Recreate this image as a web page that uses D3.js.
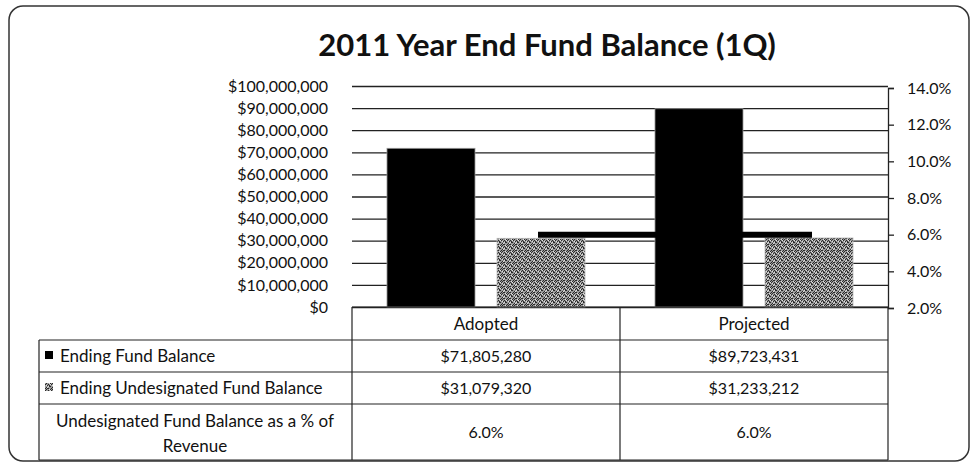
<!DOCTYPE html>
<html lang="en">
<head>
    <meta charset="UTF-8">
    <title>2011 Year End Fund Balance (1Q)</title>
    <script src="https://d3js.org/d3.v7.min.js"></script>
    <style>
        body { margin: 0; background: #fff; }
        text { font-family: Lato, "Open Sans", sans-serif; fill: #111; }
        .title { font-size: 31px; font-weight: bold; }
        .tick-label { font-size: 16px; }
        .cell { font-size: 17px; }
        .num { font-size: 16px; }
    </style>
</head>
<body>
    <svg id="chart" width="972" height="466"></svg>
    <script>
        // chart values
        const categories = ["Adopted", "Projected"];
        const seriesNames = ["Ending Fund Balance", "Ending Undesignated Fund Balance", "Undesignated Fund Balance as a % of Revenue"];
        const endingFundBalance = [71805280, 89723431];
        const undesignatedBalance = [31079320, 31233212];
        const pctOfRevenue = [6.0, 6.0];
        const leftTicks = [0, 10000000, 20000000, 30000000, 40000000, 50000000, 60000000, 70000000, 80000000, 90000000, 100000000];
        const rightTicks = [2, 4, 6, 8, 10, 12, 14];

        const svg = d3.select("#chart");

        // gray dither pattern for the undesignated bars
        const pat = svg.append("defs").append("pattern")
            .attr("id", "dots")
            .attr("width", 6).attr("height", 6)
            .attr("patternUnits", "userSpaceOnUse");
        pat.append("rect").attr("width", 6).attr("height", 6).attr("fill", "#9a9a9a");
        [[0, 0], [3, 0], [5, 1], [1, 2], [2, 2], [4, 3], [0, 4], [3, 4], [5, 4], [2, 5], [1, 1], [4, 5]].forEach(p => {
            pat.append("rect").attr("x", p[0]).attr("y", p[1])
                .attr("width", 1).attr("height", 1).attr("fill", "#2a2a2a");
        });
        [[2, 0], [4, 1], [0, 2], [5, 3], [1, 5]].forEach(p => {
            pat.append("rect").attr("x", p[0]).attr("y", p[1])
                .attr("width", 1).attr("height", 1).attr("fill", "#e0e0e0");
        });

        // outer frame
        svg.append("rect")
            .attr("x", 9).attr("y", 6)
            .attr("width", 960).attr("height", 455)
            .attr("rx", 14)
            .attr("fill", "none")
            .attr("stroke", "#333")
            .attr("stroke-width", 1.5);

        svg.append("text")
            .attr("class", "title")
            .attr("x", 547).attr("y", 56)
            .attr("text-anchor", "middle")
            .text("2011 Year End Fund Balance (1Q)");

        // scales
        const plotLeft = 352, plotRight = 888, plotTop = 86, plotBottom = 307;
        const x = d3.scaleBand().domain(categories).range([plotLeft, plotRight]);
        const xSub = d3.scaleBand()
            .domain(["fund", "undesignated"])
            .range([0, x.bandwidth()])
            .paddingInner(0.2)
            .paddingOuter(0.318);
        const y = d3.scaleLinear().domain([0, 100000000]).range([plotBottom, plotTop]);
        const y2 = d3.scaleLinear().domain([2, 14]).range([plotBottom + 1, plotTop + 2]);

        // gridlines + left labels
        const money = d3.format("$,");
        const leftAxis = svg.append("g")
            .attr("transform", `translate(${plotLeft},0)`)
            .call(d3.axisLeft(y).tickValues(leftTicks).tickSize(-(plotRight - plotLeft)).tickPadding(24).tickFormat(money));
        leftAxis.select(".domain").remove();
        leftAxis.selectAll(".tick line").attr("stroke", "#222").attr("stroke-width", 1.3);
        leftAxis.selectAll(".tick text").attr("class", "tick-label").attr("fill", "#111");

        // bars
        const rows = categories.map((c, i) => ({
            cat: c, fund: endingFundBalance[i], undesignated: undesignatedBalance[i], pct: pctOfRevenue[i]
        }));

        svg.append("g").selectAll("rect")
            .data(rows)
            .enter().append("rect")
            .attr("x", d => x(d.cat) + xSub("fund"))
            .attr("y", d => y(d.fund))
            .attr("width", xSub.bandwidth())
            .attr("height", d => y(0) - y(d.fund))
            .attr("fill", "#000")
            .attr("stroke", "#999")
            .attr("stroke-width", 0.8);

        svg.append("g").selectAll("rect")
            .data(rows)
            .enter().append("rect")
            .attr("x", d => x(d.cat) + xSub("undesignated"))
            .attr("y", d => y(d.undesignated))
            .attr("width", xSub.bandwidth())
            .attr("height", d => y(0) - y(d.undesignated))
            .attr("fill", "url(#dots)")
            .attr("stroke", "#bbb")
            .attr("stroke-width", 0.8);

        // % of revenue line (secondary axis)
        const line = d3.line()
            .x(d => x(d.cat) + xSub("undesignated") + xSub.bandwidth() / 2)
            .y(d => y2(d.pct));
        svg.append("path")
            .datum(rows)
            .attr("d", line)
            .attr("fill", "none")
            .attr("stroke", "#000")
            .attr("stroke-width", 6)
            .attr("stroke-linecap", "square");

        // right axis
        const rightAxis = svg.append("g")
            .attr("transform", `translate(${plotRight},0)`)
            .call(d3.axisRight(y2).tickValues(rightTicks).tickSize(6).tickPadding(13).tickFormat(d => d.toFixed(1) + "%"));
        rightAxis.select(".domain").attr("stroke", "#222").attr("stroke-width", 1.3);
        rightAxis.selectAll(".tick line").attr("stroke", "#222").attr("stroke-width", 1.3);
        rightAxis.selectAll(".tick text").attr("class", "tick-label").attr("fill", "#111");

        // data table
        const table = svg.append("g").attr("stroke", "#222").attr("stroke-width", 1.2);
        const rowY = [340, 372, 404, 460];
        const labelLeft = 39;
        table.append("line").attr("x1", plotLeft).attr("x2", plotRight).attr("y1", plotBottom).attr("y2", plotBottom);
        rowY.forEach(ry => {
            table.append("line").attr("x1", labelLeft).attr("x2", plotRight).attr("y1", ry).attr("y2", ry);
        });
        table.append("line").attr("x1", labelLeft).attr("x2", labelLeft).attr("y1", rowY[0]).attr("y2", rowY[3]);
        categories.concat([null]).forEach(c => {
            const cx = c === null ? plotRight : x(c);
            table.append("line").attr("x1", cx).attr("x2", cx).attr("y1", plotBottom).attr("y2", rowY[3]);
        });

        const cells = svg.append("g");
        categories.forEach((c, i) => {
            const cx = x(c) + x.bandwidth() / 2;
            cells.append("text").attr("class", "cell").attr("x", cx).attr("y", 330)
                .attr("text-anchor", "middle").text(c);
            cells.append("text").attr("class", "num").attr("x", cx).attr("y", 362)
                .attr("text-anchor", "middle").text(money(endingFundBalance[i]));
            cells.append("text").attr("class", "num").attr("x", cx).attr("y", 394)
                .attr("text-anchor", "middle").text(money(undesignatedBalance[i]));
            cells.append("text").attr("class", "num").attr("x", cx).attr("y", 438)
                .attr("text-anchor", "middle").text(pctOfRevenue[i].toFixed(1) + "%");
        });

        // row labels with legend keys
        cells.append("rect").attr("x", 45).attr("y", 351).attr("width", 8).attr("height", 8).attr("fill", "#000");
        cells.append("rect").attr("x", 45).attr("y", 383).attr("width", 8).attr("height", 8).attr("fill", "url(#dots)");
        cells.append("text").attr("class", "cell").attr("x", 60).attr("y", 362).text(seriesNames[0]);
        cells.append("text").attr("class", "cell").attr("x", 60).attr("y", 394).text(seriesNames[1]);
        cells.append("text").attr("class", "cell").attr("x", 195).attr("y", 427)
            .attr("text-anchor", "middle").text("Undesignated Fund Balance as a % of");
        cells.append("text").attr("class", "cell").attr("x", 195).attr("y", 452)
            .attr("text-anchor", "middle").text("Revenue");
    </script>
</body>
</html>
